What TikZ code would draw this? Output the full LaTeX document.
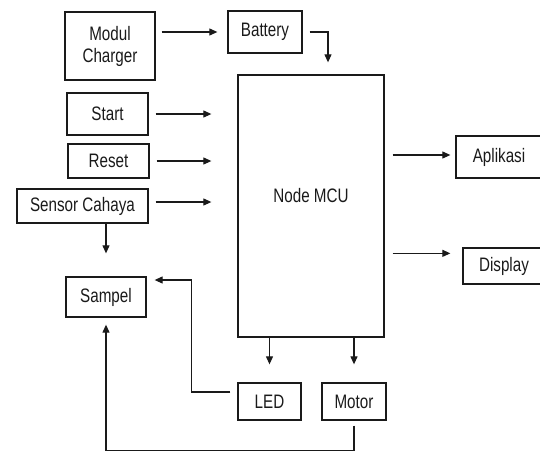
\documentclass[tikz,border=0pt]{standalone}
\usepackage{fontspec}
\setmainfont{Liberation Sans}
\newfontfamily\narrowfont[FakeStretch=0.78]{Liberation Sans}
\usepackage{tikz}
\usetikzlibrary{arrows.meta,calc}
\definecolor{ink}{HTML}{1A1A1A}
\tikzset{
  blok/.style={draw=ink,line width=1.3pt,align=center,inner sep=2pt,text=ink,
    minimum width=#1},
  blok/.default=80pt,
  arr/.style={-{Triangle[length=8pt,width=7pt]},line width=1.1pt,draw=ink},
}

\begin{document}
\begin{tikzpicture}[x=1pt,y=-1pt,font=\narrowfont\fontsize{19.5}{22}\selectfont]
    \clip (0,0) rectangle (540,450);

    \node[blok=90pt,minimum height=68pt] (charger) at (110,46) {Modul\\Charger};
    \node[blok=74pt,minimum height=42pt] (battery) at (265,32) {Battery};
    \node[blok=146pt,minimum height=262pt,text depth=22pt] (mcu) at (311,206) {Node MCU};

    \node[blok=81pt,minimum height=42pt] (start)  at (107.5,114) {Start};
    \node[blok=81pt,minimum height=34pt] (reset)  at (108.5,161) {Reset};
    \node[blok=131pt,minimum height=34pt] (sensor) at (82.5,206) {Sensor Cahaya};
    \node[blok=80pt,minimum height=40pt] (sampel) at (106,297) {Sampel};

    \node[blok=86pt,minimum height=42pt] (aplikasi) at (499,157) {Aplikasi};
    \node[blok=82pt,minimum height=36pt] (display)  at (504,266) {Display};

    \node[blok=63pt,minimum height=37pt] (led)   at (269.5,401.5) {LED};
    \node[blok=64pt,minimum height=37pt] (motor) at (354,401.5) {Motor};

    \draw[arr,shorten <=6pt,shorten >=10pt] (battery.west -| charger.east) -- (battery.west);
    \draw[arr,shorten <=7pt,shorten >=12pt] (battery.east) -| ($(mcu.north)+(17,0)$);

    \draw[arr,shorten <=7pt,shorten >=26pt] (start.east) -- (start.east -| mcu.west);
    \draw[arr,shorten <=7pt,shorten >=26pt] (reset.east) -- (reset.east -| mcu.west);
    \draw[arr,shorten <=7pt,shorten >=26pt] ([yshift=4pt]sensor.east) -- ([yshift=4pt]sensor.east -| mcu.west);

    \draw[arr,shorten <=8pt,shorten >=5pt] ([yshift=2pt]aplikasi.west -| mcu.east) -- ([yshift=2pt]aplikasi.west);
    \draw[arr,shorten <=8pt,shorten >=12pt] ([yshift=-6pt]display.north west -| mcu.east) -- ([yshift=-6pt]display.north west);

    \draw[arr,shorten >=23pt] (sampel.north |- sensor.south) -- (sampel.north);
    \draw[arr,shorten >=18pt] (led.north |- mcu.south) -- (led.north);
    \draw[arr,shorten >=18pt] (motor.north |- mcu.south) -- (motor.north);

    \draw[arr,shorten <=7pt,shorten >=8pt] ([yshift=9.5pt]led.west) -- ++(-46,0) |- ([yshift=17pt]sampel.east);
    \draw[arr,shorten <=5pt,shorten >=7pt] (motor.south) -- ++(0,30) -| (sampel.south);
\end{tikzpicture}
\end{document}
